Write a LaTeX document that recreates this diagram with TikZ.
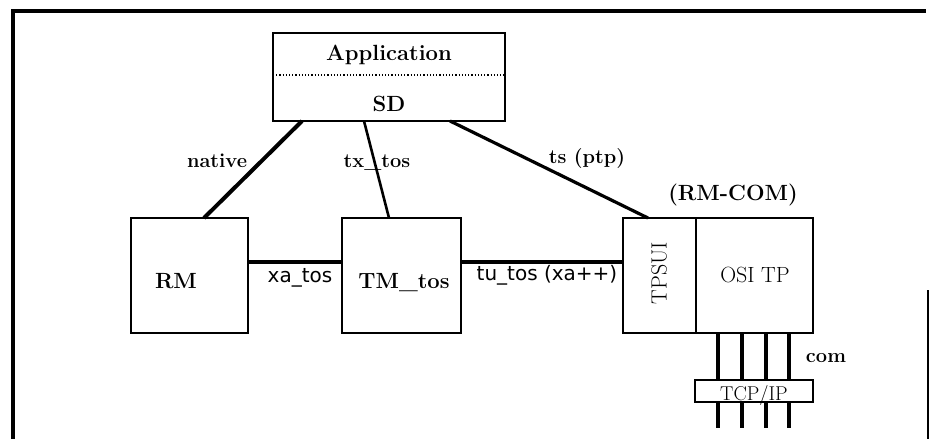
\documentclass[tikz,border=0pt]{standalone}
\usepackage{fontspec}
\newfontfamily\labsans{DejaVu Sans}
\begin{document}
\begin{tikzpicture}[x=1pt,y=-1pt,
  box/.style={draw, line width=2.8pt, inner sep=0pt, outer sep=0pt, rectangle},
  conn/.style={line width=3.2pt},
  bigb/.style={font=\fontsize{22}{26}\selectfont\bfseries, inner sep=0pt, anchor=base},
  bigr/.style={font=\fontsize{22}{26}\selectfont, inner sep=0pt, anchor=base},
  lab/.style={font=\fontsize{20}{24}\selectfont\bfseries, inner sep=0pt, anchor=base},
  slab/.style={font=\labsans\fontsize{20}{24}\selectfont, inner sep=0pt, anchor=base}]
\useasboundingbox (0,0) rectangle (929,439);
% frame
\draw[line width=4.5pt] (13,439) -- (13,11) -- (926,11);
\draw[line width=2pt] (928,290) -- (928,439);
% boxes
\node[box, minimum width=232pt, minimum height=88pt] (app) at (389,77) {};
\draw[dotted, line width=1.2pt] ([yshift=-42pt]app.north west) -- ([yshift=-42pt]app.north east);
\node[box, minimum width=117pt, minimum height=115pt] (rm) at (189.5,275.5) {};
\node[box, minimum width=119pt, minimum height=115pt] (tm) at (401.5,275.5) {};
\node[box, minimum width=73pt, minimum height=115pt] (tpsui) at (659.5,275.5) {};
\node[box, minimum width=117pt, minimum height=115pt] (osi) at (754.5,275.5) {};
\node[box, minimum width=118pt, minimum height=22pt] (tcp) at (754,391) {};
% texts
\node[bigb] (tapp) at (389,60) {Application};
\node[bigb] (tsd) at (389,111) {SD};
\node[bigb] (trm) at (176,288) {RM};
\node[bigb] (ttm) at (404,288) {TM\_tos};
\node[bigr] (tosi) at (755,282) {OSI TP};
\node[bigr, anchor=center, rotate=90] (ttpsui) at (659,273) {TPSUI};
\node[bigb] (trmcom) at (733,200) {(RM-COM)};
\node[font=\fontsize{20}{24}\selectfont, inner sep=0pt, anchor=base] (ttcp) at (754,400) {TCP/IP};
\node[lab] (tcom) at (826,362) {com};
% connectors
\draw[conn, line width=4pt] ([xshift=29pt]app.south west) -- ([xshift=73pt]rm.north west);
\draw[conn, line width=2.6pt] ([xshift=91pt]app.south west) -- ([xshift=47pt]tm.north west);
\draw[conn] ([xshift=177pt]app.south west) -- ([xshift=25pt]tpsui.north west);
\draw[conn] ([yshift=13.5pt]rm.east) -- ([yshift=13.5pt]tm.west);
\draw[conn] ([yshift=13.5pt]tm.east) -- ([yshift=13.5pt]tpsui.west);
\coordinate (bot) at (0,428);
\foreach \dx in {22,46,70,93} {
  \draw[conn] ([xshift=\dx pt]osi.south west) -- ([xshift=\dx pt]osi.south west |- tcp.north);
  \draw[conn] ([xshift=\dx pt]osi.south west |- tcp.south) -- ([xshift=\dx pt]osi.south west |- bot);
}
% connector labels
\node[lab] (lnative) at (217,167) {native};
\node[lab] (ltx) at (377,167) {tx\_tos};
\node[lab] (lts) at (587,163) {ts (ptp)};
\node[slab] (lxa) at (300,282) {xa\_tos};
\node[slab] (ltu) at (547,280) {tu\_tos (xa++)};
\end{tikzpicture}
\end{document}
